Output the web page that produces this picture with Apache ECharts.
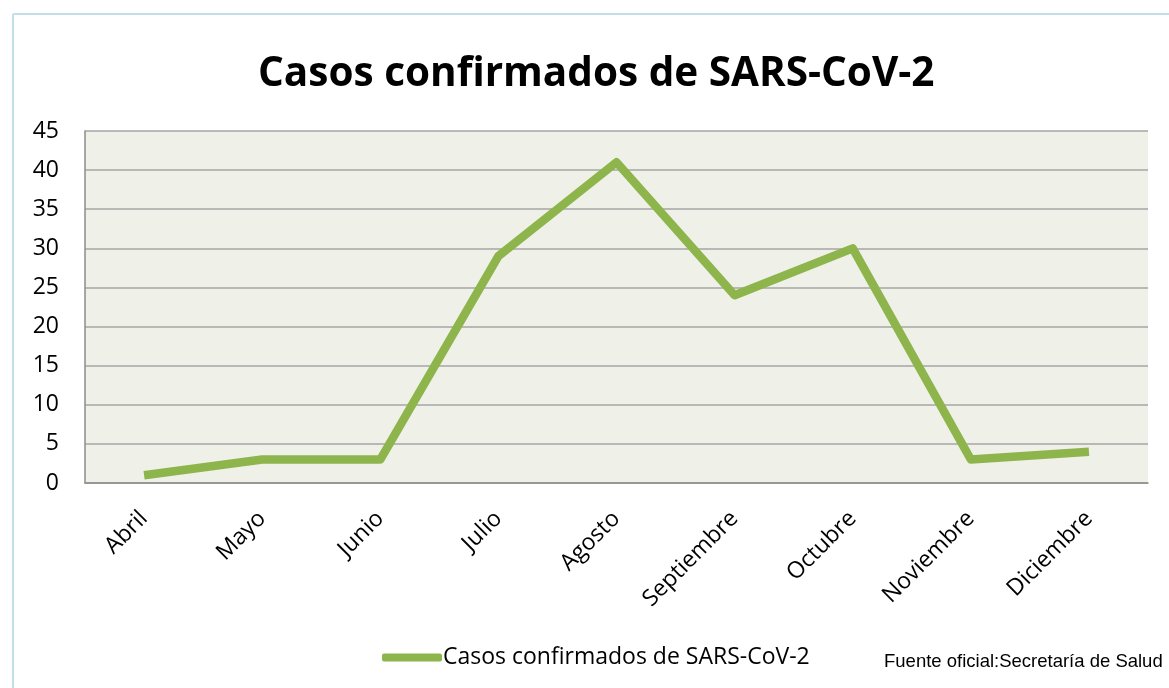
<!DOCTYPE html>
<html><head><meta charset="utf-8">
<script src="https://cdn.jsdelivr.net/npm/echarts@6/dist/echarts.min.js"></script>
<style>html,body{margin:0;padding:0;background:#fff}#c{width:1169px;height:688px}</style>
</head><body><div id="c"></div>
<script>
const categories = ['Abril','Mayo','Junio','Julio','Agosto','Septiembre','Octubre','Noviembre','Diciembre'];
const casos = [1, 3, 3, 29, 41, 24, 30, 3, 4];
const seriesName = 'Casos confirmados de SARS-CoV-2';
const titleText = 'Casos confirmados de SARS-CoV-2';
const sourceText = 'Fuente oficial:Secretaría de Salud';

const font = '"Open Sans", Lato, sans-serif';
const chart = echarts.init(document.getElementById('c'));
chart.setOption({
  animation: false,
  backgroundColor: '#ffffff',
  title: {
    text: titleText, left: 253, top: 49,
    textStyle: {fontFamily: font, fontSize: 40.5, fontWeight: 'bold', color: '#000'}
  },
  graphic: [
    {type: 'line', shape: {x1: 13, y1: 14, x2: 1169, y2: 14}, style: {stroke: '#c5dde6', lineWidth: 2}, silent: true},
    {type: 'line', shape: {x1: 13, y1: 14, x2: 13, y2: 688}, style: {stroke: '#c5dde6', lineWidth: 2}, silent: true},
    {type: 'text', left: 884, top: 652, style: {text: sourceText, fontFamily: '"Liberation Sans", Arial, sans-serif', fontSize: 18.5, fill: '#000'}}
  ],
  legend: {
    left: 377, top: 641, itemWidth: 60, itemHeight: 8, itemGap: 0,
    icon: 'roundRect',
    textStyle: {fontFamily: font, fontSize: 23, color: '#000', padding: [0,0,0,-4]},
    data: [seriesName]
  },
  grid: {left: 85, right: 21, top: 131, bottom: 205, show: true, backgroundColor: '#eff1e9', borderWidth: 0},
  xAxis: {
    type: 'category', data: categories, boundaryGap: true,
    axisLine: {lineStyle: {color: '#8c8c8c', width: 1.5}},
    axisTick: {show: false},
    axisLabel: {rotate: 45, fontFamily: font, fontSize: 23, color: '#000', margin: 32}
  },
  yAxis: {
    type: 'value', min: 0, max: 45, interval: 5,
    axisLine: {show: true, lineStyle: {color: '#8c8c8c', width: 1.5}},
    axisTick: {show: false},
    splitLine: {lineStyle: {color: '#a6a6a6', width: 1.5}},
    axisLabel: {fontFamily: font, fontSize: 23, color: '#000', margin: 26}
  },
  series: [{
    name: seriesName, type: 'line', data: casos,
    symbol: 'none', smooth: false,
    lineStyle: {color: '#8db54c', width: 8.5, join: 'round'},
    itemStyle: {color: '#8db54c'}
  }]
});
</script></body></html>
